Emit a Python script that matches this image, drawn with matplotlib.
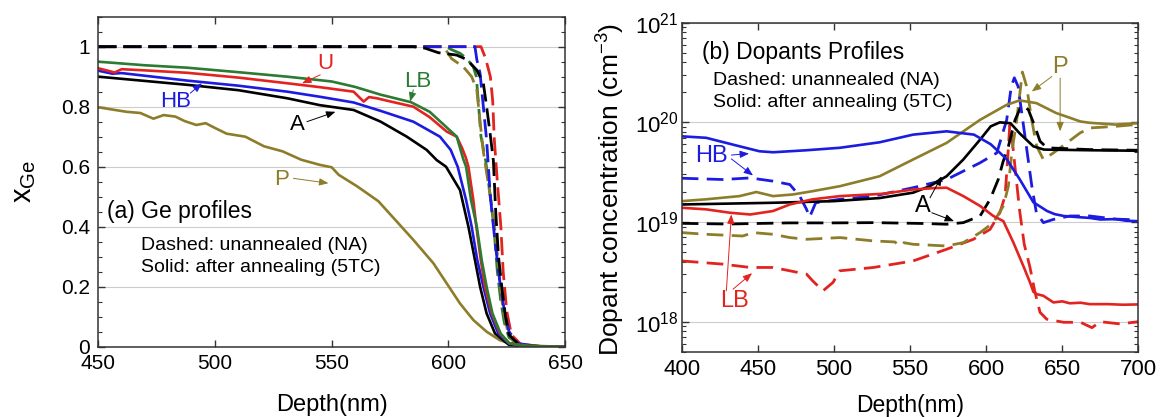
import numpy as np
import matplotlib
matplotlib.use('Agg')
import matplotlib.pyplot as plt
from matplotlib.ticker import MultipleLocator, LogLocator, NullFormatter

plt.rcParams['font.family'] = ['Liberation Sans', 'DejaVu Sans']
plt.rcParams['mathtext.default'] = 'regular'

BLACK = '#000000'
BLUE = '#1c1ce0'
RED = '#e3231f'
GREEN = '#2b7b32'
OLIVE = '#8d7d2a'

# ---- (a) Ge fraction, annealed (solid) ----
ge_lb_d = [450, 470, 488, 510, 531, 550, 560, 571, 584, 592, 599, 603.6, 606.4, 607.6, 609.7,
           612.2, 614.3, 616.4, 618.9, 622.4, 626, 632, 640, 650]
ge_lb = [0.950, 0.938, 0.930, 0.915, 0.900, 0.884, 0.866, 0.840, 0.815, 0.783, 0.733, 0.700, 0.625,
         0.600, 0.489, 0.400, 0.289, 0.200, 0.111, 0.044, 0.012, 0.003, 0.0005, 0.0]

ge_u_d = [450, 454, 457, 460, 470, 488, 510, 531, 545, 559.4, 563.7, 566, 569.4, 573.7, 585, 592,
          599.3, 603.6, 606, 607.5, 608.6, 610.7, 612, 613.9, 615.7, 618.6, 622.1, 626, 632, 640, 650]
ge_u = [0.928, 0.920, 0.914, 0.925, 0.921, 0.913, 0.897, 0.878, 0.865, 0.850, 0.817, 0.832, 0.828,
        0.820, 0.800, 0.765, 0.717, 0.700, 0.660, 0.630, 0.600, 0.489, 0.400, 0.289, 0.200, 0.111,
        0.044, 0.012, 0.003, 0.0005, 0.0]

ge_hb_d = [450, 456, 460, 488, 510, 531, 545, 559.4, 571, 585, 596.4, 601, 604, 607.6, 610, 612.4,
           615, 617.9, 621.4, 626, 632, 640, 650]
ge_hb = [0.920, 0.910, 0.912, 0.887, 0.870, 0.850, 0.833, 0.814, 0.786, 0.750, 0.700, 0.656, 0.600,
         0.489, 0.400, 0.289, 0.200, 0.111, 0.044, 0.010, 0.002, 0.0003, 0.0]

ge_a_d = [450, 488, 510, 531, 545, 559.4, 571, 582.2, 590.7, 595, 599, 605, 608.6, 611.4, 613.6,
          616.4, 620, 626, 632, 640, 650]
ge_a = [0.900, 0.873, 0.855, 0.828, 0.805, 0.789, 0.750, 0.700, 0.656, 0.622, 0.600, 0.522, 0.400,
        0.289, 0.200, 0.111, 0.044, 0.006, 0.001, 0.0002, 0.0]

ge_p_d = [450, 462, 468, 473.6, 478, 483, 487, 492, 496, 500, 505, 513, 521, 529, 537, 545, 550,
          553, 561, 570, 576.4, 585, 593.6, 599.3, 605, 610.7, 616.4, 622, 626.4, 634, 650]
ge_p = [0.798, 0.783, 0.779, 0.760, 0.772, 0.767, 0.752, 0.739, 0.745, 0.729, 0.710, 0.700, 0.668,
        0.651, 0.623, 0.606, 0.598, 0.573, 0.534, 0.485, 0.430, 0.356, 0.278, 0.211, 0.144, 0.089,
        0.050, 0.022, 0.010, 0.003, 0.0]

# ---- (a) Ge fraction, unannealed (dashed) ----
ge_na_a_d = [450, 585, 590, 595.7, 603.6, 607.9, 612.2, 615, 616.4, 617.9, 619.3, 620.3, 621.5,
             622.9, 624.5, 626, 630, 640, 650]
ge_na_a = [1.0, 1.0, 0.995, 0.980, 0.972, 0.957, 0.922, 0.878, 0.800, 0.711, 0.620, 0.450, 0.300,
           0.200, 0.100, 0.040, 0.008, 0.0005, 0.0]
ge_na_hb_d = [450, 611.4, 612.2, 613.6, 615, 616.4, 618, 620, 622, 624, 626, 630, 640, 650]
ge_na_hb = [1.0, 1.0, 0.957, 0.911, 0.800, 0.689, 0.500, 0.350, 0.220, 0.120, 0.050, 0.010, 0.0005, 0.0]
ge_na_u_d = [450, 614, 616, 618, 619, 619.7, 621, 622.5, 623.5, 625, 627, 631, 640, 650]
ge_na_u = [1.0, 1.0, 0.96, 0.90, 0.82, 0.69, 0.55, 0.40, 0.25, 0.12, 0.04, 0.008, 0.0005, 0.0]
ge_na_lb_d = [450, 599, 601.4, 605, 607.9, 610.7, 612, 614, 616, 618, 619.5, 621, 622.5, 624, 626,
              632, 640, 650]
ge_na_lb = [1.0, 1.0, 0.99, 0.978, 0.96, 0.933, 0.90, 0.70, 0.62, 0.50, 0.40, 0.25, 0.15, 0.08,
            0.03, 0.004, 0.0005, 0.0]
ge_na_p_d = [450, 598, 601.4, 606.4, 610, 612.2, 613.6, 615, 617, 619, 620.5, 622, 623.5,
             625.5, 628, 635, 650]
ge_na_p = [1.0, 1.0, 0.960, 0.933, 0.900, 0.856, 0.750, 0.650, 0.550, 0.450, 0.350, 0.220,
           0.120, 0.050, 0.015, 0.002, 0.0]

# ---- (b) dopant concentration (cm^-3), annealed (solid) ----
dop_p_d = [400, 416, 438, 449, 460, 473, 486, 504, 530, 552, 574, 596, 613.5, 622, 633, 646, 662,
           668, 685, 700]
dop_p = [1.62e19, 1.69e19, 1.82e19, 2.0e19, 1.82e19, 1.89e19, 2.04e19, 2.29e19, 2.88e19, 4.24e19,
         6.22e19, 1.06e20, 1.50e20, 1.66e20, 1.56e20, 1.24e20, 1.02e20, 9.9e19, 9.5e19, 9.8e19]

dop_hb_d = [400, 416, 438, 451, 460, 482, 504, 530, 552, 574, 592, 603, 613.5, 622, 631, 640, 645,
            651, 660, 668, 675, 685, 692, 700]
dop_hb = [7.24e19, 7.0e19, 5.75e19, 5.13e19, 5.01e19, 5.25e19, 5.56e19, 6.31e19, 7.53e19, 8.13e19,
          7.53e19, 6.03e19, 4.27e19, 2.69e19, 1.58e19, 1.29e19, 1.2e19, 1.15e19, 1.12e19, 1.1e19,
          1.06e19, 1.07e19, 1.03e19, 1.02e19]

dop_a_d = [400, 460, 500, 530, 552, 563, 574, 585, 596, 603, 609, 616, 622, 631, 638, 668, 700]
dop_a = [1.50e19, 1.56e19, 1.62e19, 1.74e19, 1.97e19, 2.29e19, 2.88e19, 4.24e19, 6.71e19, 9.12e19,
         1.0e20, 9.8e19, 7.76e19, 5.75e19, 5.33e19, 5.25e19, 5.19e19]

dop_lb_d = [400, 416, 431.5, 445, 460, 471, 486, 504, 532, 552, 566, 574, 585, 596, 604.7, 611.3,
            617.9, 624.4, 628.8, 631, 633.2, 637.6, 644.2, 650, 655, 662, 668, 680, 690, 700]
dop_lb = [1.39e19, 1.34e19, 1.24e19, 1.19e19, 1.29e19, 1.50e19, 1.69e19, 1.82e19, 1.92e19, 2.12e19,
          2.19e19, 2.21e19, 1.82e19, 1.45e19, 1.15e19, 1.02e19, 6.22e18, 3.63e18, 2.48e18, 2.0e18,
          1.89e18, 1.82e18, 1.56e18, 1.6e18, 1.53e18, 1.55e18, 1.5e18, 1.5e18, 1.48e18, 1.49e18]

# ---- (b) dopant concentration, unannealed (dashed) ----
dop_na_a_d = [400, 430, 470, 500, 526, 560, 574, 585, 596, 602.6, 608, 611, 614.6, 619, 623.4,
              627.7, 632, 635.4, 640, 668, 700]
dop_na_a = [9.7e18, 9.55e18, 9.8e18, 9.8e18, 9.86e18, 9.66e18, 9.5e18, 9.86e18, 1.15e19, 1.69e19,
            2.69e19, 3.98e19, 5.75e19, 1.06e20, 1.50e20, 1.34e20, 9.12e19, 6.46e19, 5.55e19,
            5.33e19, 5.25e19]

dop_na_hb_d = [400, 427, 445, 460, 471, 477.5, 482, 484, 488, 504, 526, 552, 574, 596, 607, 613.5,
               616.5, 618.5, 621, 624, 627, 630, 633, 637.6, 644, 655, 668, 685, 700]
dop_na_hb = [2.75e19, 2.67e19, 2.77e19, 2.57e19, 2.38e19, 1.82e19, 1.34e19, 1.12e19, 1.56e19,
             1.69e19, 1.82e19, 2.21e19, 2.67e19, 3.93e19, 4.94e19, 1.06e20, 2.29e20, 2.8e20,
             2.29e20, 1.06e20, 4.94e19, 2.29e19, 1.24e19, 9.86e18, 1.06e19, 1.15e19, 1.15e19,
             1.07e19, 1.05e19]

dop_na_lb_d = [400, 427, 445, 460, 482, 486, 492.8, 499.4, 503.8, 526, 552, 574, 591.6, 602.6, 609,
               612.4, 614, 615.5, 617, 619, 622, 625, 628.8, 632, 635.4, 639.8, 651, 662, 669.5,
               675, 688, 700]
dop_na_lb = [4.07e18, 3.78e18, 3.50e18, 3.50e18, 3.0e18, 2.57e18, 2.04e18, 2.48e18, 3.24e18,
             3.50e18, 4.07e18, 5.33e18, 6.71e18, 8.45e18, 1.24e19, 1.82e19, 3.98e19, 9.33e19,
             7.0e19, 3.5e19, 1.3e19, 6.0e18, 3.5e18, 2.0e18, 1.24e18, 1.06e18, 9.86e17, 9.86e17,
             8.71e17, 1.0e18, 9.5e17, 1.0e18]

dop_na_p_d = [400, 416, 440, 447, 460, 471, 482, 504, 526, 540, 543.4, 546, 552, 574, 585, 596,
              604.7, 611.3, 614.6, 616.8, 620.1, 623.8, 626.6, 629.9, 633.2, 637.6, 644.2, 653,
              661.7, 668.3, 685, 700]
dop_na_p = [7.83e18, 7.53e18, 7.24e18, 7.83e18, 7.53e18, 6.98e18, 6.71e18, 6.98e18, 6.46e18,
            6.31e18, 5.75e18, 6.2e18, 5.98e18, 5.75e18, 6.22e18, 7.83e18, 9.86e18, 1.45e19,
            2.29e19, 4.94e19, 1.06e20, 3.2e20, 2.29e20, 1.06e20, 5.75e19, 4.24e19, 4.94e19,
            6.22e19, 7.83e19, 8.79e19, 9.12e19, 9.55e19]

SOLID_LW = 1.9
DASH_LW = 2.0
DASHES = (6, 3)


def style_axes(ax, fs, ypad):
    for s in ax.spines.values():
        s.set_color('#333333')
        s.set_linewidth(1.1)
    ax.tick_params(which='both', direction='in', top=True, right=True, labelsize=fs,
                   color='#333333')
    ax.tick_params(axis='y', pad=ypad)
    ax.tick_params(which='major', length=5, width=1.0)
    ax.tick_params(which='minor', length=2.8, width=0.8)
    ax.grid(axis='y', which='major', color='#cccccc', lw=0.8)
    ax.set_axisbelow(True)


def arrow(ax, tail, tip, color):
    ax.annotate('', xy=tip, xytext=tail,
                arrowprops=dict(arrowstyle='-|>,head_length=0.55,head_width=0.22',
                                color=color, lw=0.7, shrinkA=0, shrinkB=0))


fig = plt.figure(figsize=(11.72, 4.17), dpi=100)

# ---------------- (a) ----------------
ax1 = fig.add_axes([0.0839, 0.1686, 0.3982, 0.7914])
for d, v, c in [(ge_na_lb_d, ge_na_lb, GREEN), (ge_na_p_d, ge_na_p, OLIVE),
                (ge_na_u_d, ge_na_u, RED), (ge_na_hb_d, ge_na_hb, BLUE),
                (ge_na_a_d, ge_na_a, BLACK)]:
    ax1.plot(d, v, color=c, lw=DASH_LW, dashes=(6.5, 2.5))
for d, v, c in [(ge_p_d, ge_p, OLIVE), (ge_a_d, ge_a, BLACK), (ge_hb_d, ge_hb, BLUE),
                (ge_u_d, ge_u, RED), (ge_lb_d, ge_lb, GREEN)]:
    ax1.plot(d, v, color=c, lw=SOLID_LW)

ax1.set_xlim(450, 650)
ax1.set_ylim(0, 1.1)
ax1.xaxis.set_major_locator(MultipleLocator(50))
ax1.yaxis.set_minor_locator(MultipleLocator(0.05))
ax1.set_yticks([0, 0.2, 0.4, 0.6, 0.8, 1.0])
ax1.set_yticklabels(['0', '0.2', '0.4', '0.6', '0.8', '1'])
style_axes(ax1, 15, 6)
ax1.tick_params(axis='x', pad=5)
ax1.set_xlabel('Depth(nm)', fontsize=17)
ax1.xaxis.set_label_coords(0.5, -0.143)
ax1.set_ylabel('x$_{Ge}$', fontsize=21)
ax1.yaxis.set_label_coords(-0.13, 0.5)

ax1.text(453.7, 0.45, '(a) Ge profiles', fontsize=16.5, va='center', ha='left')
ax1.text(468.3, 0.338, 'Dashed: unannealed (NA)', fontsize=14, va='center', ha='left')
ax1.text(468.3, 0.265, 'Solid: after annealing (5TC)', fontsize=14, va='center', ha='left')

ax1.text(547.4, 0.945, 'U', color=RED, fontsize=16, ha='center', va='center')
arrow(ax1, (545.1, 0.906), (537.3, 0.878), RED)
ax1.text(483, 0.817, 'HB', color=BLUE, fontsize=16, ha='center', va='center')
arrow(ax1, (489.4, 0.845), (494.4, 0.878), BLUE)
ax1.text(535.2, 0.739, 'A', color=BLACK, fontsize=16, ha='center', va='center')
arrow(ax1, (539.4, 0.750), (551.6, 0.783), BLACK)
ax1.text(587.1, 0.883, 'LB', color=GREEN, fontsize=16, ha='center', va='center')
arrow(ax1, (585.0, 0.856), (583.6, 0.817), GREEN)
ax1.text(528.6, 0.556, 'P', color=OLIVE, fontsize=16, ha='center', va='center')
arrow(ax1, (533.6, 0.561), (548.6, 0.545), OLIVE)

# ---------------- (b) ----------------
ax2 = fig.add_axes([0.5817, 0.1566, 0.3896, 0.789])
for d, v, c in [(dop_na_lb_d, dop_na_lb, RED), (dop_na_p_d, dop_na_p, OLIVE),
                (dop_na_a_d, dop_na_a, BLACK), (dop_na_hb_d, dop_na_hb, BLUE)]:
    ax2.plot(d, v, color=c, lw=DASH_LW, dashes=DASHES)
for d, v, c in [(dop_p_d, dop_p, OLIVE), (dop_a_d, dop_a, BLACK), (dop_hb_d, dop_hb, BLUE),
                (dop_lb_d, dop_lb, RED)]:
    ax2.plot(d, v, color=c, lw=SOLID_LW)

ax2.set_yscale('log')
ax2.set_xlim(400, 700)
ax2.set_ylim(5e17, 1e21)
ax2.xaxis.set_major_locator(MultipleLocator(50))
ax2.yaxis.set_major_locator(LogLocator(base=10, numticks=10))
ax2.yaxis.set_minor_locator(LogLocator(base=10, subs=np.arange(2, 10), numticks=10))
ax2.yaxis.set_minor_formatter(NullFormatter())
style_axes(ax2, 16, 2.5)
ax2.tick_params(axis='x', pad=5)
ax2.set_xlabel('Depth(nm)', fontsize=16.5)
ax2.xaxis.set_label_coords(0.5, -0.129)
ax2.set_ylabel('Dopant concentration (cm$^{-3}$)', fontsize=19)
ax2.yaxis.set_label_coords(-0.12, 0.494)

ax2.text(413.1, 5.05e20, '(b) Dopants Profiles', fontsize=16.5, va='center', ha='left')
ax2.text(420.3, 2.61e20, 'Dashed: unannealed (NA)', fontsize=14, va='center', ha='left')
ax2.text(420.3, 1.57e20, 'Solid: after annealing (5TC)', fontsize=14, va='center', ha='left')

ax2.text(648.6, 3.63e20, 'P', color=OLIVE, fontsize=17, ha='center', va='center')
arrow(ax2, (643.1, 2.88e20), (630.0, 2.04e20), OLIVE)
arrow(ax2, (648.6, 2.78e20), (648.6, 8.13e19), OLIVE)
ax2.text(419.5, 4.57e19, 'HB', color=BLUE, fontsize=17, ha='center', va='center')
arrow(ax2, (432.6, 4.7e19), (444.2, 4.86e19), BLUE)
arrow(ax2, (432.6, 4.3e19), (446.8, 2.93e19), BLUE)
ax2.text(558.7, 1.45e19, 'A', color=BLACK, fontsize=17, ha='center', va='center')
arrow(ax2, (563.1, 1.75e19), (570.8, 2.88e19), BLACK)
arrow(ax2, (564.3, 1.24e19), (578.9, 1.02e19), BLACK)
ax2.text(434.8, 1.62e18, 'LB', color=RED, fontsize=17, ha='center', va='center')
arrow(ax2, (429.3, 2.04e18), (432.6, 1.19e19), RED)
arrow(ax2, (433.7, 2.12e18), (446.2, 3.07e18), RED)

fig.savefig('out.png', dpi=100)
